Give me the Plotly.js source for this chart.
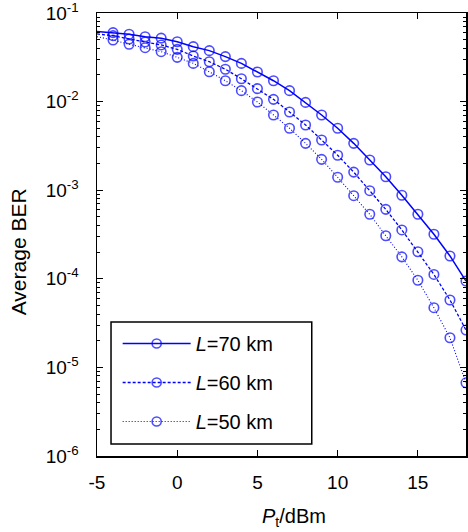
<!DOCTYPE html>
<html><head><meta charset="utf-8">
<script src="https://cdn.plot.ly/plotly-3.0.1.min.js"></script>
<style>html,body{margin:0;padding:0;background:#fff;overflow:hidden}#chart{width:468px;height:532px}</style>
</head><body><div id="chart"></div>
<script>
// transmit power P_t (dBm)
const powerDbm = [-5,-4,-3,-2,-1,0,1,2,3,4,5,6,7,8,9,10,11,12,13,14,15,16,17,18];
// average BER for each fibre length (first value = curve start at left edge, no marker)
const berL70 = [0.062,0.060,0.0575,0.054,0.052,0.0474,0.0417,0.0376,0.0322,0.0270,0.0216,0.0172,0.0133,0.0098,0.00706,0.0050,0.00338,0.00219,0.00142,0.000877,0.000535,0.000318,0.000181,0.0000944];
const berL60 = [0.058,0.0555,0.0509,0.0471,0.0436,0.0389,0.0327,0.0282,0.0232,0.0181,0.0140,0.0106,0.00764,0.00545,0.00369,0.00248,0.00160,0.000987,0.000608,0.000356,0.000202,0.000112,0.0000577,0.0000264];
const berL50 = [0.054,0.0496,0.0444,0.0406,0.0366,0.0316,0.0270,0.0217,0.0172,0.0133,0.00989,0.00706,0.00500,0.00338,0.00223,0.00140,0.000867,0.000535,0.000306,0.000177,0.0000962,0.0000472,0.0000216,0.0000067];
const seriesNames = ['<i>L</i>=70 km','<i>L</i>=60 km','<i>L</i>=50 km'];
const xTickVals = [-5,0,5,10,15];
const xTickText = ['-5','0','5','10','15'];
const yTickVals = [1e-6,1e-5,1e-4,1e-3,1e-2,1e-1];
const yTickText = ['10<sup>-6</sup>','10<sup>-5</sup>','10<sup>-4</sup>','10<sup>-3</sup>','10<sup>-2</sup>','10<sup>-1</sup>'];

const FONT = 'Arial, "Liberation Sans", Helvetica, sans-serif';
const BLUE = '#0000ff';
const markerSizes = powerDbm.map(p => p < -4.5 ? 0 : 9.5);
const dashes = ['solid','3px,2px','1px,2px'];
const widths = [1.5,1.3,1.1];
const series = [berL70, berL60, berL50];

const traces = series.map((ys, i) => ({
  x: powerDbm, y: ys, name: seriesNames[i], type: 'scatter', mode: 'lines+markers',
  legendgroup: 'g' + i,
  line: {color: BLUE, width: widths[i], dash: dashes[i]},
  marker: {symbol: 'circle-open', size: markerSizes, color: BLUE, line: {width: 1.6, color: BLUE}}
}));

const axisCommon = {
  showgrid: false, zeroline: false, showline: true, linecolor: '#000', linewidth: 1.5,
  mirror: 'ticks', ticks: 'inside', tickcolor: '#000', tickwidth: 1,
  tickfont: {family: FONT, size: 19, color: '#000'}, ticklabeloverflow: 'allow'
};

const layout = {
  width: 468, height: 532,
  margin: {l: 97, r: 2, t: 13, b: 76},
  paper_bgcolor: '#fff', plot_bgcolor: '#fff',
  font: {family: FONT, color: '#000'},
  showlegend: true,
  xaxis: Object.assign({}, axisCommon, {
    range: [-5, 18], tickvals: xTickVals, ticktext: xTickText, ticklen: 6, ticklabelstandoff: 9
  }),
  yaxis: Object.assign({}, axisCommon, {
    type: 'log', range: [-6, -1], tickvals: yTickVals, ticktext: yTickText, ticklen: 6,
    ticklabelstandoff: 13,
    minor: {ticks: 'inside', ticklen: 3, tickcolor: '#000', tickwidth: 1, dtick: 'D1'}
  }),
  legend: {
    x: 0.056, y: 0.298, xanchor: 'left', yanchor: 'top',
    bgcolor: 'rgba(0,0,0,0)', borderwidth: 0,
    font: {family: FONT, size: 20, color: '#000'},
    itemwidth: 68, tracegroupgap: 10, traceorder: 'grouped'
  },
  shapes: [
    {type: 'rect', xref: 'paper', yref: 'paper', x0: 0.038, x1: 0.582, y0: 0.027, y1: 0.3025,
     line: {color: '#000', width: 1.5}, fillcolor: '#fff', layer: 'above'}
  ],
  annotations: [
    {text: '<i>P</i><sub>t</sub>/dBm', xref: 'paper', yref: 'paper', x: 0.534, y: -0.138,
     xanchor: 'center', yanchor: 'middle', showarrow: false, font: {family: FONT, size: 20, color: '#000'}},
    {text: 'Average BER', xref: 'paper', yref: 'paper', x: -0.214, y: 0.46, textangle: -90,
     xanchor: 'center', yanchor: 'middle', showarrow: false, font: {family: FONT, size: 21, color: '#000'}}
  ]
};

Plotly.newPlot('chart', traces, layout, {displayModeBar: false, staticPlot: true});
</script></body></html>
